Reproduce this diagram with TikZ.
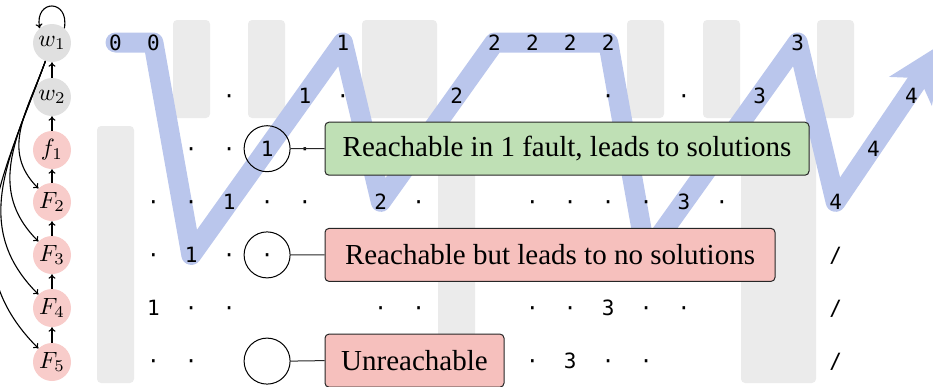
\documentclass[tikz,border=0pt]{standalone}
\usepackage{fontspec}
\setmainfont{Liberation Serif}
\newfontfamily\gridfont{DejaVu Sans Mono}
\usetikzlibrary{arrows.meta}
\definecolor{pathblue}{RGB}{186,198,236}
\definecolor{colgray}{RGB}{235,235,235}
\definecolor{nodegray}{RGB}{224,224,224}
\definecolor{nodepink}{RGB}{248,204,202}
\definecolor{boxpink}{RGB}{246,192,189}
\definecolor{boxgreen}{RGB}{191,224,181}
\newcommand\statelabel[1]{\scalebox{2.35}{$#1$}}
\begin{document}
\begin{tikzpicture}[x=1pt,y=1pt,
  band/.style={fill=colgray, rounded corners=4pt},
  cell/.style={font=\gridfont\fontsize{21}{25}\selectfont, inner sep=0pt,
    text height=15.3pt, text depth=0pt},
  state/.style={circle, minimum size=38pt, inner sep=0pt},
  pick/.style={circle, draw, line width=1pt, minimum size=46pt, inner sep=0pt},
  callout/.style={draw=black!85, line width=1pt, rounded corners=4pt,
    minimum height=53pt, inner sep=0pt, anchor=west,
    font=\fontsize{29}{33}\selectfont},
  link/.style={line width=1pt, black!85},
  edge/.style={line width=1.1pt, -{To[length=4.5pt,width=7pt]}},
  fanout/.style={edge, out=250, in=135, looseness=1.08},
]
\useasboundingbox (0,0) rectangle (933,-386);

% shaded column bands
\foreach \a/\b in {173/210, 248/285, 362/437, 627/664, 703/740, 817/854}
  \fill[band] (\a,-20) rectangle (\b,-118);
\foreach \a/\b in {97/134, 438/475, 741/816}
  \fill[band] (\a,-126) rectangle (\b,-383);

% grid: columns 37.9pt apart, rows 53.1pt apart
\begin{scope}[shift={(115.5,-42.5)}, x=37.9pt, y=-53.1pt]
  \draw[pathblue, line width=20pt, line cap=round, line join=round,
        -{Stealth[length=58pt,width=50pt,inset=15pt]}]
    (0,0) -- (1,0) -- (2,4) -- (6,0) -- (7,3) -- (10,0) -- (13,0)
    -- (14,4) -- (18,0) -- (19,3) -- (21.85,0);

  \foreach \c/\t in {0/0, 1/0, 6/1, 10/2, 11/2, 12/2, 13/2, 18/3}
    \node[cell] (a\c) at (\c,0) {\t};
  \foreach \c/\t in {3/·, 5/1, 6/·, 9/2, 13/·, 15/·, 17/3, 21/4}
    \node[cell] (b\c) at (\c,1) {\t};
  \foreach \c/\t in {2/·, 3/·, 4/1, 5/·, 20/4}
    \node[cell] (c\c) at (\c,2) {\t};
  \foreach \c/\t in {1/·, 2/·, 3/1, 4/·, 5/·, 7/2, 8/·, 11/·, 12/·, 13/·,
                     14/·, 15/3, 16/·, 19/4}
    \node[cell] (d\c) at (\c,3) {\t};
  \foreach \c/\t in {1/·, 2/1, 3/·, 4/·, 19/{/}}
    \node[cell] (e\c) at (\c,4) {\t};
  \foreach \c/\t in {1/1, 2/·, 3/·, 7/·, 8/·, 11/·, 12/·, 13/3, 14/·,
                     15/·, 19/{/}}
    \node[cell] (f\c) at (\c,5) {\t};
  \foreach \c/\t in {1/·, 2/·, 11/·, 12/3, 13/·, 14/·, 19/{/}}
    \node[cell] (g\c) at (\c,6) {\t};

  \node[pick] (pickA) at (4,2) {};
  \node[pick] (pickB) at (4,4) {};
  \node[pick] (pickC) at (4,6) {};
\end{scope}

% legend boxes
\node[callout, fill=boxgreen, minimum width=484pt] (noteA) at (324.5,-148.7)
  {Reachable in 1 fault, leads to solutions};
\node[callout, fill=boxpink, minimum width=450pt] (noteB) at (324.5,-254.9)
  {Reachable but leads to no solutions};
\node[callout, fill=boxpink, minimum width=179pt] (noteC) at (324.5,-360.6)
  {Unreachable};
\draw[link] (pickA.east) -- (noteA.west);
\draw[link] (pickB.east) -- (noteB.west);
\draw[link] (pickC.east) -- (noteC.west);

% state chain
\node[state, fill=nodegray] (w1) at (52,-43) {\statelabel{w_1}};
\node[state, fill=nodegray] (w2) at (52,-97) {\statelabel{w_2}};
\node[state, fill=nodepink] (f1) at (52,-150) {\statelabel{f_1}};
\node[state, fill=nodepink] (F2) at (52,-202) {\statelabel{F_2}};
\node[state, fill=nodepink] (F3) at (52,-255) {\statelabel{F_3}};
\node[state, fill=nodepink] (F4) at (52,-308) {\statelabel{F_4}};
\node[state, fill=nodepink] (F5) at (52,-362) {\statelabel{F_5}};

\draw[edge] (w2) -- (w1);
\draw[edge] (f1) -- (w2);
\draw[edge] (F2) -- (f1);
\draw[edge] (F3) -- (F2);
\draw[edge] (F4) -- (F3);
\draw[edge] (F5) -- (F4);
\draw[fanout] (w1) to (F2);
\draw[fanout] (w1) to (F3);
\draw[fanout] (w1) to (F4);
\draw[fanout] (w1) to (F5);
\draw[edge] (w1.50) .. controls +(80:30) and +(100:30) .. (w1.130);
\end{tikzpicture}
\end{document}
